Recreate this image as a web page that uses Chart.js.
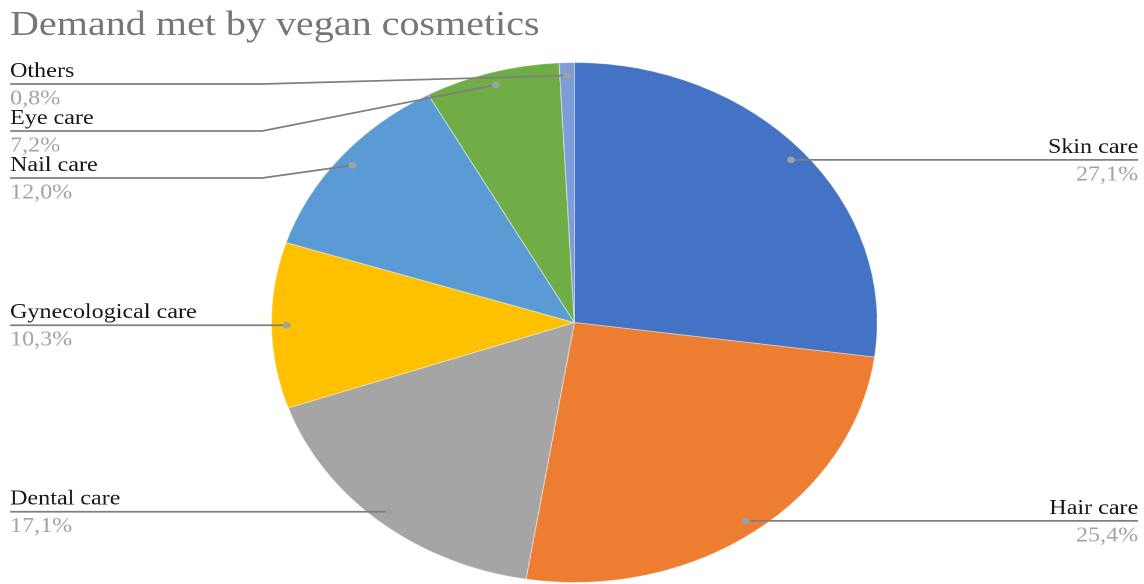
<!DOCTYPE html>
<html>
<head>
<meta charset="utf-8">
<script src="https://cdn.jsdelivr.net/npm/chart.js@4"></script>
<style>
    html, body { margin: 0; padding: 0; background: #fff; overflow: hidden; }
    #wrap {
        width: 982px;
        height: 584px;
        transform: scaleX(1.165);
        transform-origin: 0 0;
    }
</style>
</head>
<body>
<div id="wrap">
    <canvas id="pieChart" width="982" height="584"></canvas>
</div>
<script>
const TITLE = "Demand met by vegan cosmetics";

const categories = ["Skin care", "Hair care", "Dental care", "Gynecological care", "Nail care", "Eye care", "Others"];
const shares     = [27.1, 25.4, 17.1, 10.3, 12.0, 7.2, 0.8];
const sliceColors = ["#4472C4", "#ED7D31", "#A5A5A5", "#FFC000", "#5B9BD5", "#70AD47", "#7C9DD7"];

const SERIF = '"Liberation Serif", "Times New Roman", serif';

// title + leader-line labels, drawn roughly the way the spreadsheet does it
const leaderLabels = {
    id: 'leaderLabels',

    afterDraw(chart) {

        const ctx = chart.ctx;
        const W = chart.width;
        const arcs = chart.getDatasetMeta(0).data;

        const marginL = 8.6;
        const marginR = W - 5;
        const elbowL = 225;
        const elbowR = W - 225;
        const firstLine = 84;
        const step = 47;

        ctx.save();

        ctx.font = '34.4px ' + SERIF;
        ctx.fillStyle = '#777777';
        ctx.textAlign = 'left';
        ctx.textBaseline = 'alphabetic';
        ctx.fillText(TITLE, marginL, 35);

        const items = arcs.map((arc, i) => {
            const p = arc.getProps(['x', 'y', 'startAngle', 'endAngle', 'outerRadius'], true);
            const mid = (p.startAngle + p.endAngle) / 2;
            return {
                i: i,
                px: p.x + Math.cos(mid) * p.outerRadius * 0.95,
                py: p.y + Math.sin(mid) * p.outerRadius * 0.95,
                right: Math.cos(mid) >= 0
            };
        });

        [true, false].forEach(side => {

            const list = items.filter(it => it.right === side).sort((a, b) => a.py - b.py);
            let prev = firstLine - step;

            list.forEach(it => {

                const lineY = Math.max(it.py, prev + step, firstLine);
                prev = lineY;

                const tx = side ? marginR : marginL;
                const ex = side ? elbowR : elbowL;

                ctx.strokeStyle = '#7f7f7f';
                ctx.lineWidth = 1.7;
                ctx.beginPath();
                ctx.moveTo(tx, lineY);
                if (side ? it.px < ex : it.px > ex) {
                    ctx.lineTo(ex, lineY);
                }
                ctx.lineTo(it.px, it.py);
                ctx.stroke();

                ctx.fillStyle = '#a0a0a0';
                ctx.beginPath();
                ctx.arc(it.px, it.py, 3.4, 0, Math.PI * 2);
                ctx.fill();

                ctx.textAlign = side ? 'right' : 'left';
                ctx.font = '20.7px ' + SERIF;

                ctx.fillStyle = '#161616';
                ctx.fillText(categories[it.i], tx, lineY - 7);

                ctx.fillStyle = '#a3a3a3';
                ctx.fillText(shares[it.i].toFixed(1).replace('.', ',') + '%', tx, lineY + 20.5);
            });
        });

        ctx.restore();
    }
};

new Chart(
    document.getElementById('pieChart'),
    {
        type: 'pie',

        data: {
            labels: categories,
            datasets: [{
                data: shares,
                backgroundColor: sliceColors,
                borderColor: 'rgba(255,255,255,0.4)',
                borderWidth: 1
            }]
        },

        options: {
            responsive: false,
            animation: false,
            devicePixelRatio: 2,
            events: [],

            layout: {
                padding: { top: 62, bottom: 1, left: 4, right: 0 }
            },

            plugins: {
                legend: { display: false },
                tooltip: { enabled: false },
                title: { display: false }
            }
        },

        plugins: [leaderLabels]
    }
);
</script>
</body>
</html>
